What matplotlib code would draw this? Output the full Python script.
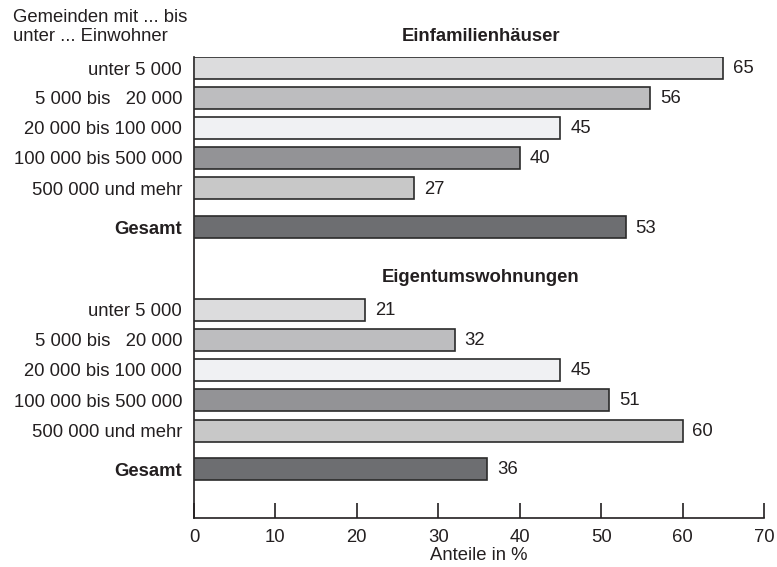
import matplotlib
matplotlib.use("Agg")
import matplotlib.pyplot as plt

plt.rcParams['font.family'] = ['Liberation Sans', 'DejaVu Sans']

categories = ["unter 5 000", "5 000 bis   20 000", "20 000 bis 100 000",
              "100 000 bis 500 000", "500 000 und mehr", "Gesamt"]
einfamilien = [65, 56, 45, 40, 27, 53]
eigentum = [21, 32, 45, 51, 60, 36]
section_titles = ["Einfamilienhäuser", "Eigentumswohnungen"]
xticks = [0, 10, 20, 30, 40, 50, 60, 70]

colors = ["#dcdcdd", "#bdbdbf", "#f0f1f3", "#939396", "#c8c8c8", "#6d6e71"]
pos1 = [0, 0.99, 1.98, 2.97, 3.98, 5.26]
pos2 = [8.0, 8.99, 9.98, 10.98, 12.0, 13.26]

FS = 13.3
TC = "#231f20"

fig = plt.figure(figsize=(7.77, 5.67), dpi=100)
ax = fig.add_axes([194/777, 1-518/567, (764-194)/777, (518-57)/567])

h = 0.73
for pos, vals in ((pos1, einfamilien), (pos2, eigentum)):
    ax.barh(pos, vals, height=h, color=colors, edgecolor="#2b2b2b", linewidth=1.2, zorder=3)
    for p, v in zip(pos, vals):
        ax.text(v + 1.2, p + 0.03, str(v), va="center", ha="left", fontsize=FS, color=TC)

ax.set_xlim(0, 70)
ax.set_ylim(14.88, -h/2)
ax.set_xticks(xticks)
ax.set_xticklabels([str(t) for t in xticks], fontsize=FS, color=TC)
ax.tick_params(axis="x", direction="in", length=11, width=1.2, color=TC, pad=8)
ax.set_yticks(pos1 + pos2)
ax.set_yticklabels(categories + categories, fontsize=FS, color=TC)
for lbl in ax.get_yticklabels():
    if lbl.get_text() == "Gesamt":
        lbl.set_fontweight("bold")
ax.tick_params(axis="y", left=False, length=0, pad=8.6)
ax.spines["top"].set_visible(False)
ax.spines["right"].set_visible(False)
ax.spines["left"].set_linewidth(1.2)
ax.spines["bottom"].set_linewidth(1.2)
ax.spines["left"].set_color(TC)
ax.spines["bottom"].set_color(TC)
ax.set_xlabel("Anteile in %", fontsize=FS, color=TC, labelpad=1)

ax.text(35.2, -1.03, section_titles[0], ha="center", va="center", fontsize=FS,
        fontweight="bold", color=TC, clip_on=False)
ax.text(35.2, 6.93, section_titles[1], ha="center", va="center", fontsize=FS,
        fontweight="bold", color=TC, clip_on=False)

fig.text(13/777, 1-9/567, "Gemeinden mit ... bis\nunter ... Einwohner", ha="left", va="top",
         fontsize=FS, color=TC, linespacing=1.12)

fig.savefig("out.png", dpi=100)
